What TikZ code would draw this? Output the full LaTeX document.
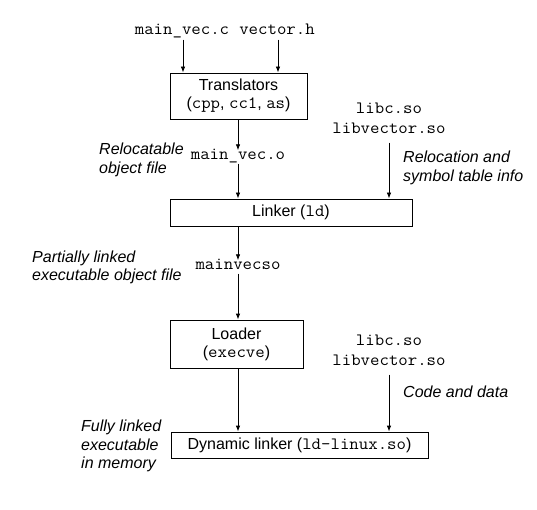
\documentclass[tikz,border=0pt]{standalone}
\usepackage{fontspec}
\setmainfont{Liberation Sans}
\setmonofont{Latin Modern Mono}[Scale=1.08, FakeStretch=1.06]
\usetikzlibrary{arrows.meta}
\tikzset{
  base/.style={inner xsep=0pt, inner ysep=2pt, font=\fontsize{16}{18.5}\selectfont, text height=0.7em, text depth=0.2em},
  code/.style={base, font=\fontsize{16}{18.5}\selectfont\ttfamily},
  lbl/.style={inner sep=0pt, font=\fontsize{16}{18.5}\selectfont\itshape, align=left, anchor=west},
  stage/.style={draw=black, line width=0.8pt, inner sep=0pt, align=center, font=\fontsize{16}{18}\selectfont},
  arr/.style={line width=0.8pt, -{Latex[length=6pt,width=4.5pt]}},
}
\begin{document}
\begin{tikzpicture}[x=1pt,y=-1pt]
\useasboundingbox (0,0) rectangle (537,510);
% sources
\node[code] (mvc) at (182,32) {main\_vec.c};
\node[code] (vh) at (277,32) {vector.h};
% translators
\node[stage, minimum width=137pt, minimum height=46pt] (trans) at (238.5,96)
  {Translators\\(\texttt{cpp}, \texttt{cc1}, \texttt{as})};
\node[code] (mvo) at (238,157) {main\_vec.o};
\node[stage, minimum width=242pt, minimum height=27pt] (linker) at (291,212.5)
  {Linker (\texttt{ld})};
\node[code] (mvso) at (238,267) {mainvecso};
\node[stage, minimum width=133pt, minimum height=48pt] (loader) at (236.5,344)
  {Loader\\(\texttt{execve})};
\node[stage, minimum width=257pt, minimum height=26pt] (dyn) at (299.5,445)
  {Dynamic linker (\texttt{ld-linux.so})};
% libraries
\node[code] (libc1) at (389,111) {libc.so};
\node[code] (libv1) at (389,131) {libvector.so};
\node[code] (libc2) at (389,343) {libc.so};
\node[code] (libv2) at (389,363) {libvector.so};
% labels
\node[lbl] (lrel) at (99,160) {Relocatable\\object file};
\node[lbl] (lsym) at (403,168) {Relocation and\\symbol table info};
\node[lbl] (lpart) at (32,267.5) {Partially linked\\executable object file};
\node[lbl] (lcode) at (403,392) {Code and data};
\node[lbl] (lfull) at (81,446) {Fully linked\\executable\\in memory};
% connectors
\draw[arr, shorten <=1pt] (mvc.south -| 183,0) -- (trans.north -| 183,0);
\draw[arr, shorten <=1pt] (vh.south -| 278,0) -- (trans.north -| 278,0);
\draw[arr] (trans.south -| mvo.south) -- (mvo.north);
\draw[arr] (mvo.south) -- (linker.north -| mvo.south);
\draw[arr] (linker.south -| mvso.north) -- (mvso.north);
\draw[arr] (mvso.south) -- (loader.north -| mvso.south);
\draw[arr] (loader.south -| mvso.south) -- (dyn.north -| mvso.south);
\draw[arr, shorten <=5pt] (libv1.south) -- (linker.north -| libv1.south);
\draw[arr, shorten <=5pt] (libv2.south) -- (dyn.north -| libv2.south);
\end{tikzpicture}
\end{document}
